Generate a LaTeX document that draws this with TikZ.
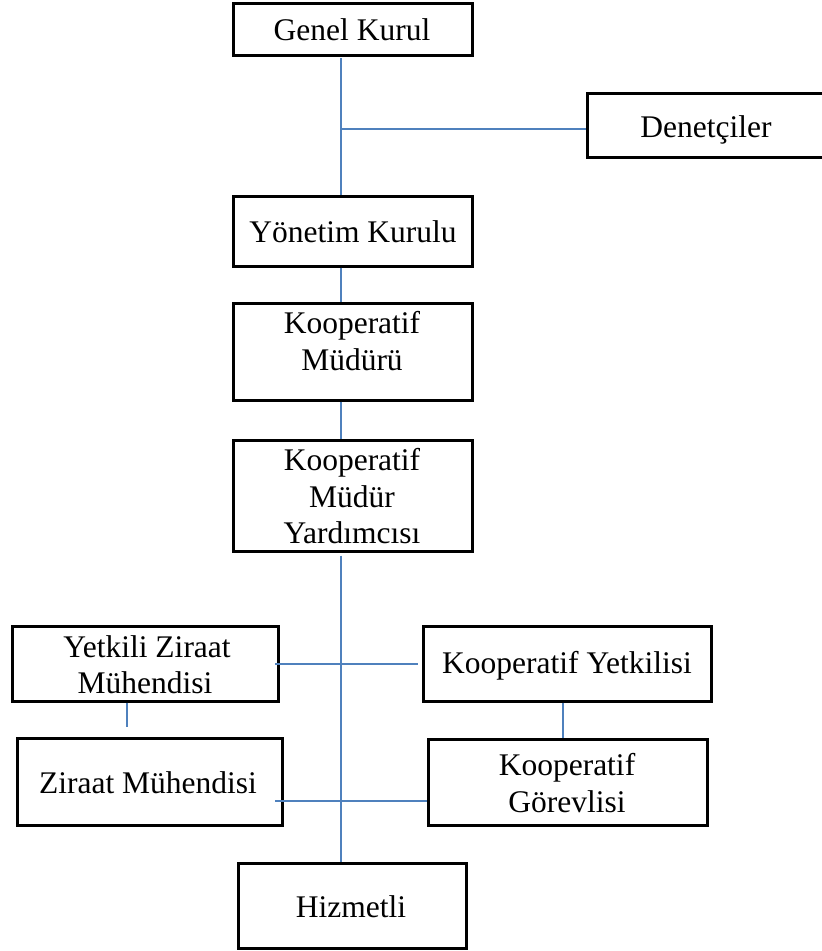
\documentclass[tikz,border=0pt]{standalone}
\usepackage{fontspec}
\setmainfont{Liberation Serif}
\definecolor{lineblue}{HTML}{4F81BD}
\begin{document}
\begin{tikzpicture}[x=1pt,y=-1pt,
  box/.style={draw=black,line width=3pt,rectangle,inner sep=0pt,fill=white},
  txt/.style={anchor=base,inner sep=0pt,font=\fontsize{31.5}{36}\selectfont},
  conn/.style={draw=lineblue,line width=2pt}]
\useasboundingbox (0,0) rectangle (822,951);
\fill[white] (0,0) rectangle (822,951);
% coordinates for connector alignment
\coordinate (xl) at (341,0);
\coordinate (hy) at (0,129);
\coordinate (lx) at (275,0);
\coordinate (h2) at (0,801);
\coordinate (vx) at (563,0);
\coordinate (sv) at (127,727);
% boxes
\node[box,minimum width=239pt,minimum height=52pt] (gk) at (352.5,29) {};
\node[box,minimum width=239pt,minimum height=70pt] (yk) at (352.5,231) {};
\node[box,minimum width=243pt,minimum height=64pt] (den) at (708.5,125) {};
\node[box,minimum width=239pt,minimum height=97pt] (km) at (352.5,351.5) {};
\node[box,minimum width=239pt,minimum height=111pt] (kmy) at (352.5,495.5) {};
\node[box,minimum width=266pt,minimum height=75pt] (yzm) at (145,663.5) {};
\node[box,minimum width=288pt,minimum height=75pt] (kyt) at (567,663.5) {};
\node[box,minimum width=265pt,minimum height=87pt] (zm) at (149.5,781.5) {};
\node[box,minimum width=279pt,minimum height=86pt] (kg) at (567.5,782) {};
\node[box,minimum width=228pt,minimum height=85pt] (hz) at (352,905.5) {};
% connectors
\draw[conn,shorten <=1.5pt] (gk.south -| xl) -- (yk.north -| xl);
\draw[conn] (xl |- hy) -- (den.west |- hy);
\draw[conn] (yk.south -| xl) -- (km.north -| xl);
\draw[conn] (km.south -| xl) -- (kmy.north -| xl);
\draw[conn,shorten <=3pt] (kmy.south -| xl) -- (hz.north -| xl);
\draw[conn,shorten >=4pt] (lx |- yzm.east) -- (kyt.west);
\draw[conn] (sv |- yzm.south) -- (sv);
\draw[conn] (kyt.south -| vx) -- (kg.north -| vx);
\draw[conn] (lx |- h2) -- (kg.west |- h2);
% texts
\node[txt] (t1) at (352,40) {Genel Kurul};
\node[txt] (t2) at (706,137) {Denetçiler};
\node[txt] (t3) at (353,242) {Yönetim Kurulu};
\node[txt] (t4a) at (352,333) {Kooperatif};
\node[txt] (t4b) at (352,370) {Müdürü};
\node[txt] (t5a) at (352,470) {Kooperatif};
\node[txt] (t5b) at (352,507) {Müdür};
\node[txt] (t5c) at (352,543) {Yardımcısı};
\node[txt] (t6a) at (147,657) {Yetkili Ziraat};
\node[txt] (t6b) at (145,693) {Mühendisi};
\node[txt] (t7) at (567,673) {Kooperatif Yetkilisi};
\node[txt] (t8) at (148,793) {Ziraat Mühendisi};
\node[txt] (t9a) at (567,775) {Kooperatif};
\node[txt] (t9b) at (567,812) {Görevlisi};
\node[txt] (t10) at (351,917) {Hizmetli};
\end{tikzpicture}
\end{document}
